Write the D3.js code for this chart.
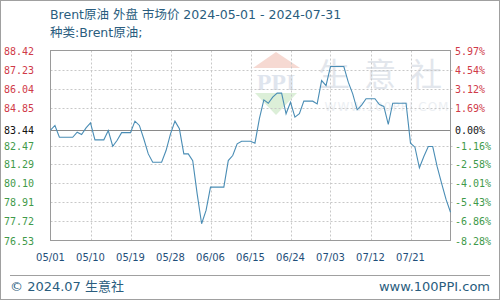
<!DOCTYPE html>
<html><head><meta charset="utf-8">
<script src="https://cdn.jsdelivr.net/npm/d3@7/dist/d3.min.js"></script>
<style>body{margin:0;background:#fff}svg{display:block}</style>
</head><body><svg id="c" width="500" height="300"></svg>
<script>
// ---- data ----
const startDate = "2024-05-01";
const prices = [
 83.44,83.73,82.99,82.99,82.99,82.99,83.31,83.16,83.58,83.89,
 82.83,82.83,82.83,83.41,82.43,82.80,83.28,83.28,83.28,84.00,
 83.73,82.88,81.95,81.43,81.43,81.43,82.16,83.20,84.00,83.52,
 81.95,81.95,81.53,79.45,77.58,78.41,79.87,79.87,79.87,79.87,
 81.53,81.85,82.58,82.74,82.74,82.74,82.62,84.15,85.33,85.12,
 85.50,85.75,85.75,84.46,85.18,84.25,84.46,85.25,85.25,85.25,
 85.08,86.54,86.23,87.42,87.42,87.42,87.42,86.44,85.71,84.71,
 85.00,85.40,85.40,85.40,85.04,84.92,83.79,85.12,85.12,85.12,
 85.12,82.62,82.37,81.08,81.79,82.41,82.41,81.15,80.10,79.10,
 78.30
];
const leftTicks = [88.42,87.23,86.04,84.85,83.44,82.47,81.29,80.10,78.91,77.72,76.53];
const rightTicks = ["5.97%","4.54%","3.12%","1.69%","0.00%","-1.16%","-2.58%","-4.01%","-5.43%","-6.86%","-8.28%"];
const xTickLabels = ["05/01","05/10","05/19","05/28","06/06","06/15","06/24","07/03","07/12","07/21"];
const baseValue = 83.44;
const titleText = "Brent原油 外盘 市场价  2024-05-01 - 2024-07-31";
const subTitle = "种类:Brent原油;";
const footLeft = "© 2024.07 生意社";
const footRight = "www.100PPI.com";

// ---- layout ----
const svg = d3.select("#c");
const L = 50.5, R = 450.5, T = 50.5, B = 240.5;
const parse = d3.timeParse("%Y-%m-%d");
const d0 = parse(startDate);
const dates = prices.map((_, i) => d3.timeDay.offset(d0, i));
const x = d3.scaleTime().domain([dates[0], dates[dates.length - 1]]).range([L, R]);
const y = d3.scaleLinear().domain([76.53, 88.42]).range([B, T]);

// outer border
svg.append("rect").attr("x",0.5).attr("y",0.5).attr("width",499).attr("height",299)
  .attr("fill","#fff").attr("stroke","#a0a0a0");

// watermark
const wm = svg.append("g");
wm.append("path").attr("d","M253,68 L276,52 L300,68 Z").attr("fill","#f6d9d2");
wm.append("text").attr("x",276).attr("y",90).attr("text-anchor","middle")
  .attr("font-family","Liberation Serif, serif").attr("font-weight","bold").attr("font-size",24)
  .attr("fill","#dfe5ee").text("PPI");
wm.append("path").attr("d","M255,93 L297,93 L276,115 Z").attr("fill","#dcefd8");
wm.append("text").attr("x",387).attr("y",86).attr("text-anchor","middle")
  .attr("font-family","Noto Sans CJK SC, sans-serif").attr("font-size",32)
  .attr("letter-spacing","14").attr("fill","#e2e6ec").text("生意社");
wm.append("text").attr("x",387).attr("y",111).attr("text-anchor","middle")
  .attr("font-family","DejaVu Sans, sans-serif").attr("font-size",12)
  .attr("letter-spacing","1").attr("fill","#eceff3").text("WWW.100PPI.COM");

// titles
svg.append("text").attr("x",50).attr("y",19).attr("font-family","DejaVu Sans, Noto Sans CJK SC, sans-serif")
  .attr("font-size",12.5).attr("fill","#2a5d7e").text(titleText);
svg.append("text").attr("x",50).attr("y",37).attr("font-family","DejaVu Sans, Noto Sans CJK SC, sans-serif")
  .attr("font-size",12.5).attr("fill","#2a5d7e").text(subTitle);

// grid
const xTickDates = xTickLabels.map((_, i) => d3.timeDay.offset(d0, i * 9));
svg.append("g").selectAll("line").data(leftTicks.filter(v => v !== baseValue && v !== 88.42 && v !== 76.53))
  .join("line").attr("x1",L).attr("x2",R+3)
  .attr("y1",d => Math.round(y(d)) + 0.5).attr("y2",d => Math.round(y(d)) + 0.5)
  .attr("stroke","#c8c8c8").attr("stroke-dasharray","2,2");
svg.append("g").selectAll("line").data(xTickDates.slice(1))
  .join("line").attr("x1",d => Math.round(x(d)) + 0.5).attr("x2",d => Math.round(x(d)) + 0.5)
  .attr("y1",T).attr("y2",B)
  .attr("stroke","#c8c8c8").attr("stroke-dasharray","2,2");
// base line
svg.append("line").attr("x1",L).attr("x2",R).attr("y1",Math.round(y(baseValue))+0.5).attr("y2",Math.round(y(baseValue))+0.5)
  .attr("stroke","#8a8a8a");
// plot border
svg.append("rect").attr("x",L).attr("y",T).attr("width",R-L).attr("height",B-T)
  .attr("fill","none").attr("stroke","#9a9a9a");

// line
const line = d3.line().x((d, i) => x(dates[i])).y(d => y(d));
svg.append("path").datum(prices).attr("d",line).attr("fill","none")
  .attr("stroke","#4a8db5").attr("stroke-width",1.1);

// left axis labels
const colorFor = v => v > baseValue ? "#d03a48" : (v < baseValue ? "#3f9a4a" : "#111");
svg.append("g").selectAll("text").data(leftTicks).join("text")
  .attr("x",4).attr("y",d => y(d) + 4)
  .attr("font-family","DejaVu Sans Mono, monospace").attr("font-size",10)
  .attr("fill",colorFor).text(d => d.toFixed(2));
// right axis labels
svg.append("g").selectAll("text").data(rightTicks).join("text")
  .attr("x",455).attr("y",(d, i) => y(leftTicks[i]) + 4)
  .attr("font-family","DejaVu Sans Mono, monospace").attr("font-size",10)
  .attr("fill",(d, i) => colorFor(leftTicks[i])).text(d => d);

// x labels
svg.append("g").selectAll("text").data(xTickLabels).join("text")
  .attr("x",(d, i) => x(xTickDates[i])).attr("y",261).attr("text-anchor","middle")
  .attr("font-family","DejaVu Sans, sans-serif").attr("font-size",10)
  .attr("fill","#1f4f7a").text(d => d);

// footer
svg.append("line").attr("x1",10).attr("x2",490).attr("y1",275.5).attr("y2",275.5).attr("stroke","#a0a0a0");
svg.append("text").attr("x",10).attr("y",291).attr("font-family","DejaVu Sans, Noto Sans CJK SC, sans-serif")
  .attr("font-size",13).attr("fill","#2a5d7e").text(footLeft);
svg.append("text").attr("x",490).attr("y",291).attr("text-anchor","end").attr("font-family","DejaVu Sans, sans-serif")
  .attr("font-size",13).attr("fill","#2a5d7e").text(footRight);
</script></body></html>
